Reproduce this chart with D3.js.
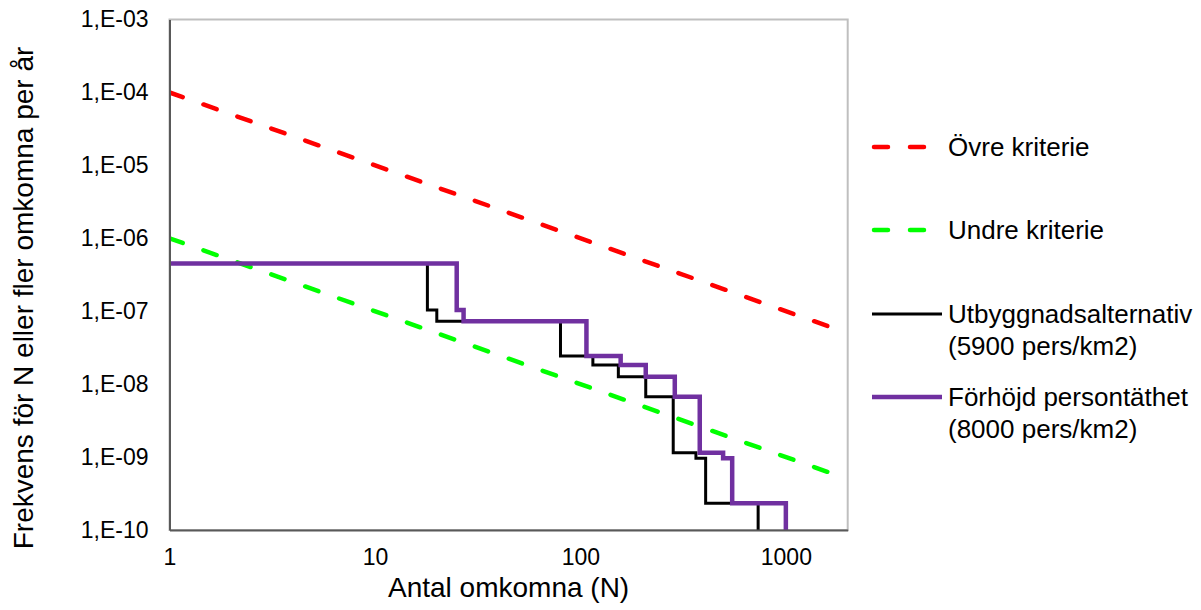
<!DOCTYPE html>
<html>
<head>
<meta charset="utf-8">
<script src="https://cdn.jsdelivr.net/npm/d3@7"></script>
<style>
  body { margin: 0; background: #fff; }
  svg { font-family: "Liberation Sans", Arial, sans-serif; }
</style>
</head>
<body>
<svg width="1201" height="610"></svg>
<script>
// N-axis ticks and frequency ticks
const xTicks = [1, 10, 100, 1000];
const yTicks = [1e-3, 1e-4, 1e-5, 1e-6, 1e-7, 1e-8, 1e-9, 1e-10];

// criteria lines (endpoints, slope -1 in log-log)
const critN = [1, 2000];
const upperF = [1e-4, 5e-8];
const lowerF = [1e-6, 5e-10];

// F/N step curves
const baseN = [1, 18, 20, 80, 115, 153, 208, 283, 365, 407, 733];
const baseF = [4.5e-7, 1.04e-7, 7.3e-8, 2.43e-8, 1.83e-8, 1.26e-8, 6.7e-9, 1.15e-9, 9.6e-10, 2.32e-10, 1e-10];
const highN = [1, 25, 27, 107, 157, 208, 288, 381, 495, 548, 1000];
const highF = [4.5e-7, 1.04e-7, 7.3e-8, 2.43e-8, 1.83e-8, 1.26e-8, 6.7e-9, 1.15e-9, 9.6e-10, 2.32e-10, 1e-10];

const svg = d3.select("svg");
const pLeft = 169.5, pRight = 847.7, pTop = 19.5, pBottom = 530;

const x = d3.scaleLog().domain([1, 2000]).range([pLeft, pRight]);
const y = d3.scaleLog().domain([1e-10, 1e-3]).range([pBottom, pTop]);

svg.append("clipPath").attr("id", "plot")
  .append("rect")
    .attr("x", pLeft).attr("y", pTop - 1)
    .attr("width", pRight - pLeft).attr("height", pBottom - pTop + 1);

// frame
svg.append("rect")
  .attr("x", pLeft).attr("y", pTop)
  .attr("width", pRight - pLeft).attr("height", pBottom - pTop)
  .attr("fill", "none").attr("stroke", "#bfbfbf").attr("stroke-width", 2);

const zip = (a, b) => a.map((v, i) => [v, b[i]]);
const line = d3.line().x(d => x(d[0])).y(d => y(d[1]));
const step = d3.line().x(d => x(d[0])).y(d => y(d[1])).curve(d3.curveStepAfter);

const g = svg.append("g").attr("clip-path", "url(#plot)");

g.append("path")
  .attr("d", line(zip(critN, upperF)))
  .attr("fill", "none").attr("stroke", "#ff0000")
  .attr("stroke-width", 4.5).attr("stroke-dasharray", "14,22")
  .attr("stroke-linecap", "round");

g.append("path")
  .attr("d", line(zip(critN, lowerF)))
  .attr("fill", "none").attr("stroke", "#00ff00")
  .attr("stroke-width", 4.5).attr("stroke-dasharray", "14,22")
  .attr("stroke-linecap", "round");

g.append("path")
  .attr("d", step(zip(baseN, baseF)))
  .attr("fill", "none").attr("stroke", "#000")
  .attr("stroke-width", 3);

g.append("path")
  .attr("d", step(zip(highN, highF)))
  .attr("fill", "none").attr("stroke", "#7030a0")
  .attr("stroke-width", 4.5);

// axes
const fmt = v => "1,E-" + String(Math.round(-Math.log10(v))).padStart(2, "0");

const yAxis = svg.append("g")
  .attr("transform", `translate(${pLeft},0)`)
  .call(d3.axisLeft(y).tickValues(yTicks).tickFormat(fmt).tickSize(0).tickPadding(21));
yAxis.select(".domain").attr("stroke", "#595959").attr("stroke-width", 2);
yAxis.selectAll("text").attr("font-size", 23).attr("fill", "#000")
  .attr("font-family", "Liberation Sans, Arial, sans-serif");

const xAxis = svg.append("g")
  .attr("transform", `translate(0,${pBottom})`)
  .call(d3.axisBottom(x).tickValues(xTicks).tickFormat(d3.format("d")).tickSize(0).tickPadding(19));
xAxis.select(".domain").attr("stroke", "#595959").attr("stroke-width", 2);
xAxis.selectAll("text").attr("font-size", 23).attr("fill", "#000")
  .attr("font-family", "Liberation Sans, Arial, sans-serif");

// axis titles
svg.append("text")
  .attr("x", (pLeft + pRight) / 2).attr("y", 597)
  .attr("text-anchor", "middle").attr("font-size", 28)
  .text("Antal omkomna (N)");

svg.append("text")
  .attr("transform", "translate(33,298) rotate(-90)")
  .attr("text-anchor", "middle").attr("font-size", 28)
  .text("Frekvens för N eller fler omkomna per år");

// legend
const legend = [
  { label: ["Övre kriterie"], color: "#ff0000", dash: "14,22", w: 4.5, cy: 147 },
  { label: ["Undre kriterie"], color: "#00ff00", dash: "14,22", w: 4.5, cy: 230 },
  { label: ["Utbyggnadsalternativ", "(5900 pers/km2)"], color: "#000", dash: null, w: 3, cy: 314 },
  { label: ["Förhöjd persontäthet", "(8000 pers/km2)"], color: "#7030a0", dash: null, w: 4.5, cy: 397 }
];

const lg = svg.append("g").selectAll("g").data(legend).enter().append("g");
lg.append("line")
  .attr("x1", d => d.dash ? 874 : 872).attr("x2", d => d.dash ? 940 : 942)
  .attr("y1", d => d.cy).attr("y2", d => d.cy)
  .attr("stroke", d => d.color).attr("stroke-width", d => d.w)
  .attr("stroke-dasharray", d => d.dash)
  .attr("stroke-linecap", d => d.dash ? "round" : "butt");
lg.each(function(d) {
  const t = d3.select(this).append("text").attr("font-size", 26).attr("x", 948);
  d.label.forEach((s, i) => {
    t.append("tspan").attr("x", 948).attr("y", d.cy + 9 + i * 32).text(s);
  });
});
</script>
</body>
</html>
